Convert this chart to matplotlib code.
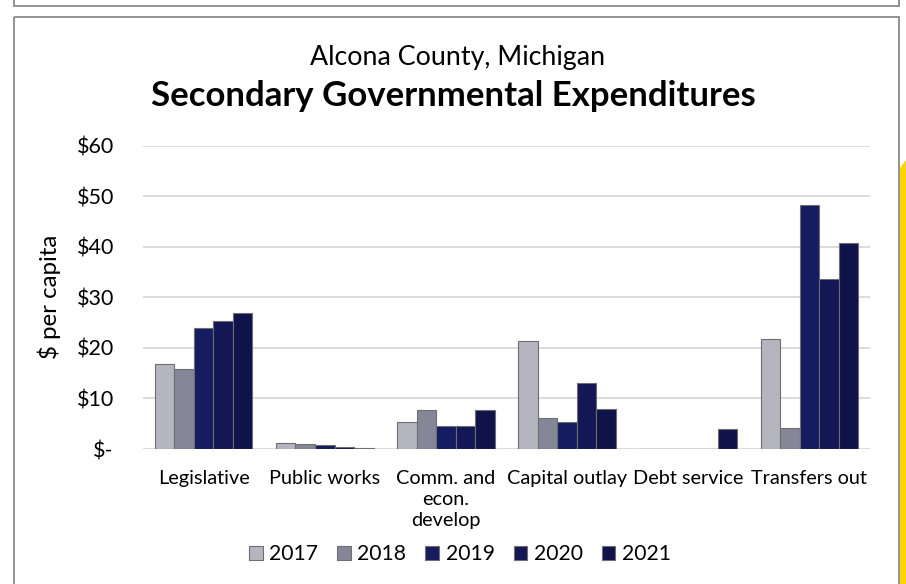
import numpy as np
import matplotlib
matplotlib.use("Agg")
import matplotlib.pyplot as plt
from matplotlib.patches import Rectangle, Polygon, Patch

plt.rcParams['font.family'] = ['Lato', 'DejaVu Sans']

categories = ["Legislative", "Public works", "Comm. and\necon.\ndevelop",
              "Capital outlay", "Debt service", "Transfers out"]
years = ["2017", "2018", "2019", "2020", "2021"]

# $ per capita, one list per year
v2017 = [16.8, 1.1, 5.3, 21.3, 0.0, 21.8]
v2018 = [15.9, 0.9, 7.7, 6.2, 0.0, 4.1]
v2019 = [23.9, 0.8, 4.6, 5.3, 0.0, 48.3]
v2020 = [25.4, 0.3, 4.5, 13.0, 0.0, 33.7]
v2021 = [27.0, 0.1, 7.7, 8.0, 4.0, 40.8]
series = [v2017, v2018, v2019, v2020, v2021]

colors = ["#b4b5bf", "#858799", "#151c5f", "#131755", "#10134a"]
edge = "#6e6e6e"

W, H = 906, 584
fig = plt.figure(figsize=(W / 100, H / 100), dpi=100)
fig.patch.set_facecolor("white")

# page decorations: boxes and the yellow side stripe, drawn in pixel units
deco = fig.add_axes([0, 0, 1, 1], zorder=-1)
deco.set_xlim(0, W)
deco.set_ylim(H, 0)
deco.axis("off")
deco.add_patch(Rectangle((14, -20), 885, 26, fill=False, ec="#808080", lw=1.2))
deco.add_patch(Rectangle((14, 17), 885, 600, fill=False, ec="#808080", lw=1.2))
deco.add_patch(Polygon([(900, 168), (906, 160), (906, 590), (900, 590)],
                       closed=True, fc="#ffd400", ec="none"))

left, right = 143 / W, 870 / W
bottom, top = 1 - 449 / H, 1 - 145.7 / H
ax = fig.add_axes([left, bottom, right - left, top - bottom])

x = np.arange(len(categories))
bw = 0.161
for i, (vals, c, yr) in enumerate(zip(series, colors, years)):
    ax.bar(x + (i - 2) * bw, vals, width=bw, color=c, edgecolor=edge,
           linewidth=0.8, label=yr, zorder=3)

ax.set_xlim(-0.5, len(categories) - 0.5)
ax.set_ylim(0, 60)
ax.set_yticks(range(0, 61, 10))
ax.set_yticklabels(["$-"] + [f"${v}" for v in range(10, 61, 10)])
ax.yaxis.grid(True, color="#d9d9d9", lw=1.3, zorder=0)
ax.set_axisbelow(True)
for s in ax.spines.values():
    s.set_visible(False)
ax.tick_params(axis="y", length=0, pad=21, labelsize=15.5)
ax.tick_params(axis="x", length=0, pad=15, labelsize=14.3)
ax.set_xticks(x)
ax.set_xticklabels(categories, linespacing=1.3)
ax.set_ylabel("$ per capita", fontsize=17.3, labelpad=11)

fig.text(0.505, 1 - 57 / H, "Alcona County, Michigan", ha="center",
         va="center", fontsize=19.3)
fig.text(0.5, 1 - 96 / H, "Secondary Governmental Expenditures", ha="center",
         va="center", fontsize=25, fontweight="bold")

handles = [Patch(facecolor=c, edgecolor=edge, lw=0.8) for c in colors]
fig.legend(handles, years, loc="center", bbox_to_anchor=(460 / W, 1 - 554 / H),
           ncol=5, frameon=False, fontsize=15.2, handlelength=0.65,
           handleheight=0.65, handletextpad=0.3, columnspacing=0.9)

fig.savefig("out.png", dpi=100)
